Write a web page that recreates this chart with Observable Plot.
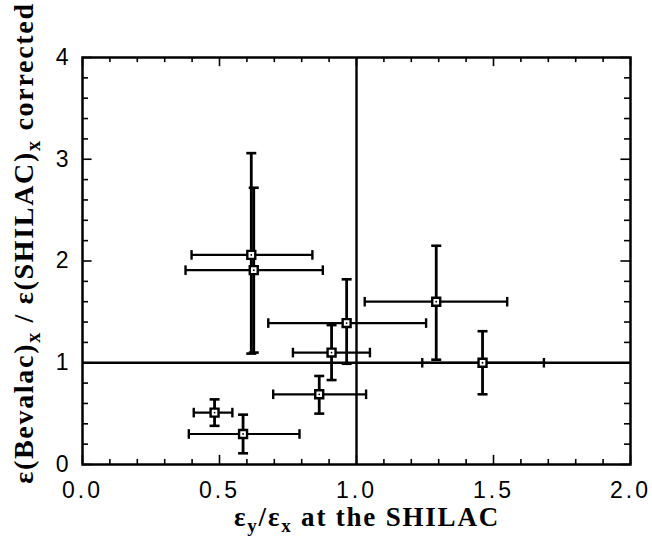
<!DOCTYPE html>
<html><head><meta charset="utf-8">
<script src="https://cdn.jsdelivr.net/npm/d3@7"></script>
<script src="https://cdn.jsdelivr.net/npm/@observablehq/plot@0.6"></script>
<style>
html,body{margin:0;padding:0;background:#fff}
svg{display:block}
g[aria-label="x-axis tick label"] text{font-size:23px !important;letter-spacing:3px;font-family:'Liberation Sans',Arial,sans-serif}
g[aria-label="y-axis tick label"] text{font-size:23px !important;font-family:'Liberation Sans',Arial,sans-serif}
</style>
</head><body><div id="chart"></div>
<script>
// Data points
const ptX   = [0.616, 0.625, 0.964, 0.909, 0.864, 1.291, 1.460, 0.482, 0.586];
const ptY   = [2.06,  1.91,  1.39,  1.10,  0.69,  1.60,  1.00,  0.51,  0.30];
const xLow  = [0.398, 0.376, 0.678, 0.768, 0.696, 1.030, 1.240, 0.406, 0.388];
const xHigh = [0.839, 0.877, 1.254, 1.049, 1.035, 1.550, 1.684, 0.547, 0.792];
const yLow  = [1.09,  1.10,  0.99,  0.83,  0.50,  1.03,  0.69,  0.38,  0.11];
const yHigh = [3.06,  2.72,  1.82,  1.37,  0.87,  2.15,  1.31,  0.64,  0.49];

// Reference lines
const refX = [1];
const refY = [1];

// Axes
const xDomain = [0, 2];
const yDomain = [0, 4];
const xMajor = [0, 0.5, 1, 1.5, 2];
const xMinor = [0.1, 0.2, 0.3, 0.4, 0.6, 0.7, 0.8, 0.9, 1.1, 1.2, 1.3, 1.4, 1.6, 1.7, 1.8, 1.9];
const yMajor = [0, 1, 2, 3, 4];
const yMinor = [0.2, 0.4, 0.6, 0.8, 1.2, 1.4, 1.6, 1.8, 2.2, 2.4, 2.6, 2.8, 3.2, 3.4, 3.6, 3.8];
const xTickLabels = ["0.0", "0.5", "1.0", "1.5", "2.0"];
const yTickLabels = ["0", "1", "2", "3", "4"];

const data = ptX.map((x, i) => ({x, y: ptY[i], xl: xLow[i], xh: xHigh[i], yl: yLow[i], yh: yHigh[i]}));

// layout
const W = 652, H = 546, mL = 82, mR = 22, mT = 57, mB = 82;
// tick lengths expressed in data units (style)
const xTickMinor = 0.022, xTickMajor = 0.035; // horizontal length of y-axis ticks
const yTickMinor = 0.05, yTickMajor = 0.09;   // vertical length of x-axis ticks

// line-shaped cap symbols (length derived from r)
function seg(dx, dy) {
  return {draw(ctx, size) {
    const L = Math.sqrt(size / Math.PI);
    ctx.moveTo(-dx * L, -dy * L); ctx.lineTo(dx * L, dy * L);
  }};
}
const vCap = seg(0, 1), hCap = seg(1, 0);

const tk = {stroke: "black", strokeWidth: 1.6};
const [x0, x1] = xDomain, [y0, y1] = yDomain;

const chart = Plot.plot({
  width: W, height: H,
  marginLeft: mL, marginRight: mR, marginTop: mT, marginBottom: mB,
  style: {fontFamily: "'Liberation Sans', Arial, sans-serif", fontSize: "23px", color: "black", background: "white"},
  x: {domain: xDomain},
  y: {domain: yDomain},
  marks: [
    // inward ticks
    Plot.ruleX(xMinor, {x: d => d, y1: y0, y2: y0 + yTickMinor, ...tk}),
    Plot.ruleX(xMajor, {x: d => d, y1: y0, y2: y0 + yTickMajor, ...tk}),
    Plot.ruleX(xMinor, {x: d => d, y1: y1, y2: y1 - yTickMinor, ...tk}),
    Plot.ruleX(xMajor, {x: d => d, y1: y1, y2: y1 - yTickMajor, ...tk}),
    Plot.ruleY(yMinor, {y: d => d, x1: x0, x2: x0 + xTickMinor, ...tk}),
    Plot.ruleY(yMajor, {y: d => d, x1: x0, x2: x0 + xTickMajor, ...tk}),
    Plot.ruleY(yMinor, {y: d => d, x1: x1, x2: x1 - xTickMinor, ...tk}),
    Plot.ruleY(yMajor, {y: d => d, x1: x1, x2: x1 - xTickMajor, ...tk}),
    Plot.frame({stroke: "black", strokeWidth: 2.5, fill: "none"}),
    Plot.ruleX(refX, {x: d => d, strokeWidth: 2.4, stroke: "black"}),
    Plot.ruleY(refY, {y: d => d, strokeWidth: 2.4, stroke: "black"}),
    // error bars
    Plot.ruleY(data, {y: "y", x1: "xl", x2: "xh", stroke: "black", strokeWidth: 2.2}),
    Plot.ruleX(data, {x: "x", y1: "yl", y2: "yh", stroke: "black", strokeWidth: 2.8}),
    Plot.dot(data, {x: "xl", y: "y", symbol: vCap, r: 4.8, fill: "none", stroke: "black", strokeWidth: 2.4}),
    Plot.dot(data, {x: "xh", y: "y", symbol: vCap, r: 4.8, fill: "none", stroke: "black", strokeWidth: 2.4}),
    Plot.dot(data, {x: "x", y: "yl", symbol: hCap, r: 5, fill: "none", stroke: "black", strokeWidth: 2.6}),
    Plot.dot(data, {x: "x", y: "yh", symbol: hCap, r: 5, fill: "none", stroke: "black", strokeWidth: 2.6}),
    // markers
    Plot.dot(data, {x: "x", y: "y", symbol: "square", r: 4.5, fill: "white", stroke: "black", strokeWidth: 2.4}),
    Plot.dot(data, {x: "x", y: "y", r: 0.9, fill: "black", stroke: "none"}),
    // axis labels
    Plot.axisX({ticks: xMajor, tickSize: 0, tickPadding: 17, tickFormat: d => xTickLabels[xMajor.indexOf(d)], label: null, fontSize: 23}),
    Plot.axisY({ticks: yMajor, tickSize: 0, tickPadding: 14, tickFormat: d => yTickLabels[yMajor.indexOf(d)], label: null, fontSize: 23})
  ]
});
document.getElementById("chart").appendChild(chart);

// axis titles with subscripts
const svg = d3.select(chart);
const titleFont = "'Liberation Serif', 'Times New Roman', serif";
const xt = svg.append("text")
  .attr("x", 367).attr("y", 526)
  .attr("text-anchor", "middle")
  .attr("font-family", titleFont).attr("font-weight", "bold")
  .attr("font-size", 27).attr("letter-spacing", 1.8).attr("fill", "black");
xt.append("tspan").text("ε");
xt.append("tspan").attr("dy", 6).attr("font-size", 19).text("y");
xt.append("tspan").attr("dy", -6).text("/ε");
xt.append("tspan").attr("dy", 6).attr("font-size", 19).text("x");
xt.append("tspan").attr("dy", -6).text(" at the SHILAC");

const yt = svg.append("text")
  .attr("transform", "translate(33,243) rotate(-90)")
  .attr("text-anchor", "middle")
  .attr("font-family", titleFont).attr("font-weight", "bold")
  .attr("font-size", 28).attr("letter-spacing", 1.7).attr("fill", "black");
yt.append("tspan").text("ε(Bevalac)");
yt.append("tspan").attr("dy", 7).attr("font-size", 20).text("x");
yt.append("tspan").attr("dy", -7).text(" / ε(SHILAC)");
yt.append("tspan").attr("dy", 7).attr("font-size", 20).text("x");
yt.append("tspan").attr("dy", -7).text(" corrected");
</script>
</body></html>
